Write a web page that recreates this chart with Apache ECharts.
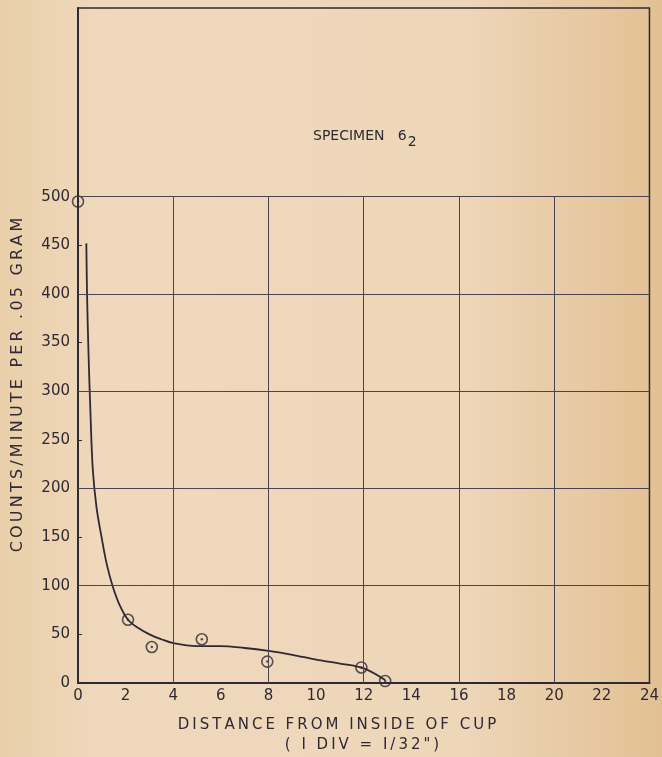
<!DOCTYPE html>
<html>
<head>
<meta charset="utf-8" />
<title>Specimen 6-2</title>
<script src="https://cdn.jsdelivr.net/npm/echarts@6/dist/echarts.min.js"></script>
<style>
  html, body { margin: 0; padding: 0; }
  #chart { width: 662px; height: 757px; }
</style>
</head>
<body>
<div id="chart"></div>
<script>
// measured points (circles)
var pointX = [0, 2.1, 3.1, 5.2, 7.95, 11.9, 12.9];
var pointY = [495, 65, 37, 45, 22, 16, 2];

// hand-drawn fitted curve
var curveX = [0.35, 0.38, 0.44, 0.52, 0.62, 0.78, 0.99, 1.2, 1.45, 1.75, 2.1, 2.5, 3, 3.5, 4, 5, 6, 7, 8, 9, 10, 11, 12, 12.9];
var curveY = [452, 400, 340, 280, 220, 180, 150, 123, 100, 80, 65, 57, 50, 45, 41, 38, 38, 36, 33, 29, 24, 20, 15, 3];

// grid lines / ticks
var gridX = [4, 8, 12, 16, 20];
var gridY = [100, 200, 300, 400, 500];
var yTicks = [0, 50, 100, 150, 200, 250, 300, 350, 400, 450, 500];

var ink = '#2e2a33';
var font = 'DejaVu Sans';

// lettering on the original is widely spaced
function spaced(s) {
    return s.split('').join('\u2009');
}

var markData = [];
gridY.forEach(function (v) { markData.push({ yAxis: v }); });
gridX.forEach(function (v) { markData.push([{ coord: [v, 0] }, { coord: [v, 500] }]); });

var chart = echarts.init(document.getElementById('chart'));
chart.setOption({
    backgroundColor: {
        type: 'linear', x: 0, y: 0, x2: 1, y2: 0,
        colorStops: [
            { offset: 0, color: '#e9cfa9' },
            { offset: 0.15, color: '#efd8bc' },
            { offset: 0.7, color: '#eed6b9' },
            { offset: 1, color: '#e2c093' }
        ]
    },
    animation: false,
    grid: {
        left: 78, right: 8, top: 8, bottom: 74,
        show: true, borderColor: ink, borderWidth: 1.5
    },
    xAxis: {
        type: 'value', min: 0, max: 24, interval: 2,
        axisLine: { show: true, lineStyle: { color: ink, width: 2 } },
        axisTick: { show: false },
        splitLine: { show: false },
        axisLabel: { color: ink, fontSize: 15, fontFamily: font, margin: 6 }
    },
    yAxis: {
        type: 'value', min: 0, max: 694,
        axisLine: { show: true, lineStyle: { color: ink, width: 2 } },
        axisTick: { show: true, inside: true, length: 4, customValues: yTicks, lineStyle: { color: ink } },
        splitLine: { show: false },
        axisLabel: { color: ink, fontSize: 15, fontFamily: font, margin: 8, customValues: yTicks }
    },
    graphic: [
        {
            type: 'text', x: 18, y: 385, rotation: Math.PI / 2,
            style: {
                text: spaced('COUNTS/MINUTE PER .05 GRAM'), fill: ink, font: '16px ' + font,
                align: 'center', verticalAlign: 'middle'
            }
        },
        {
            type: 'text', x: 337, y: 725,
            style: {
                text: spaced('DISTANCE FROM INSIDE OF CUP'), fill: ink, font: '15px ' + font,
                align: 'center', verticalAlign: 'middle'
            }
        },
        {
            type: 'text', x: 362, y: 745,
            style: {
                text: spaced('( I DIV = I/32")'), fill: ink, font: '15px ' + font,
                align: 'center', verticalAlign: 'middle'
            }
        },
        {
            type: 'text', x: 313, y: 136,
            style: {
                text: '{a|SPECIMEN   6}{b|2}', fill: ink,
                verticalAlign: 'middle',
                rich: {
                    a: { fontSize: 14, fontFamily: font, fill: ink },
                    b: { fontSize: 14, fontFamily: font, fill: ink, padding: [12, 0, 0, 1] }
                }
            }
        }
    ],
    series: [
        {
            type: 'line',
            data: curveX.map(function (x, i) { return [x, curveY[i]]; }),
            smooth: 0.35,
            showSymbol: false,
            lineStyle: { color: ink, width: 1.8 },
            silent: true
        },
        {
            type: 'scatter',
            data: pointX.map(function (x, i) { return [x, pointY[i]]; }),
            symbol: 'circle',
            symbolSize: 11,
            clip: false,
            itemStyle: { color: 'rgba(0,0,0,0)', borderColor: ink, borderWidth: 1.6 },
            markLine: {
                silent: true,
                symbol: 'none',
                label: { show: false },
                lineStyle: { color: '#4a4450', width: 1, type: 'solid' },
                data: markData
            }
        },
        {
            type: 'scatter',
            data: pointX.map(function (x, i) { return [x, pointY[i]]; }),
            symbol: 'circle',
            symbolSize: 2.5,
            clip: false,
            itemStyle: { color: ink }
        }
    ]
});
</script>
</body>
</html>
